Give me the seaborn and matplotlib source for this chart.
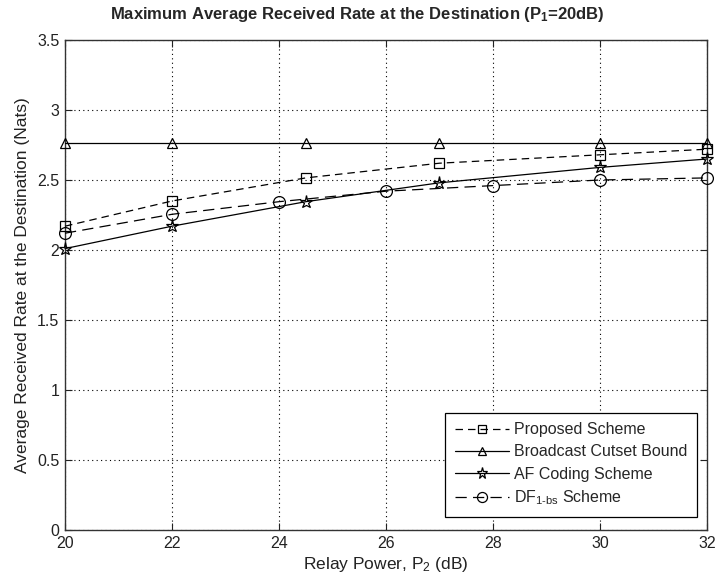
import matplotlib
matplotlib.use("Agg")
import matplotlib.pyplot as plt
import seaborn as sns
import pandas as pd

sns.set_theme(style="white")
plt.rcParams['font.family'] = ['Liberation Sans', 'DejaVu Sans']
plt.rcParams['mathtext.fontset'] = 'custom'
plt.rcParams['mathtext.rm'] = 'Liberation Sans'
plt.rcParams['mathtext.it'] = 'Liberation Sans'
plt.rcParams['mathtext.bf'] = 'Liberation Sans:bold'

# Data
x_prop = [20, 22, 24.5, 27, 30, 32]
y_prop = [2.17, 2.35, 2.515, 2.62, 2.68, 2.72]
x_bound = [20, 22, 24.5, 27, 30, 32]
y_bound = [2.765, 2.765, 2.765, 2.765, 2.765, 2.765]
x_af = [20, 22, 24.5, 27, 30, 32]
y_af = [2.01, 2.17, 2.345, 2.48, 2.59, 2.65]
x_df = [20, 22, 24, 26, 28, 30, 32]
y_df = [2.12, 2.255, 2.345, 2.42, 2.46, 2.50, 2.515]

labels = ["Proposed Scheme", "Broadcast Cutset Bound", "AF Coding Scheme",
          r"DF$_{\mathrm{1\text{-}bs}}$ Scheme"]
xticks = [20, 22, 24, 26, 28, 30, 32]
yticks = [0, 0.5, 1, 1.5, 2, 2.5, 3, 3.5]
ytick_labels = ["0", "0.5", "1", "1.5", "2", "2.5", "3", "3.5"]

fig = plt.figure(figsize=(7.16, 5.84), dpi=100)
ax = fig.add_axes([0.0908, 0.0925, 0.8966, 0.839])

series = [
    (x_prop, y_prop, 's', (0, (6, 4)), 7),
    (x_bound, y_bound, '^', '-', 7.5),
    (x_af, y_af, '*', '-', 9.5),
    (x_df, y_df, 'o', (0, (9, 5)), 8.5),
]
for (xs, ys, mk, ls, ms), lab in zip(series, labels):
    df = pd.DataFrame({"x": xs, "y": ys})
    sns.lineplot(data=df, x="x", y="y", ax=ax, color="black", linewidth=0.9,
                 linestyle=ls, marker=mk, markersize=ms, markerfacecolor='none',
                 markeredgecolor='black', markeredgewidth=0.9, label=lab,
                 errorbar=None, clip_on=False, zorder=3)

ax.set_xlim(20, 32)
ax.set_ylim(0, 3.5)
ax.set_xticks(xticks)
ax.set_yticks(yticks)
ax.set_yticklabels(ytick_labels)
ax.grid(True, linestyle=(0, (1, 3)), color='black', linewidth=0.8)
ax.tick_params(direction='in', length=5, top=True, right=True, labelsize=11.5,
               colors='#222222', bottom=True, left=True, width=0.8, pad=4)
for sp in ax.spines.values():
    sp.set_color('#333333')
    sp.set_linewidth(1.0)

ax.set_xlabel(r"Relay Power, P$_2$ (dB)", fontsize=12.5, color='#222222', labelpad=3)
ax.set_ylabel("Average Received Rate at the Destination (Nats)", fontsize=12.5,
              color='#222222', labelpad=5)
ax.set_title(r"Maximum Average Received Rate at the Destination (P$_{\mathbf{1}}$=20dB)",
             fontsize=12, fontweight='bold', pad=15, x=0.456)

leg = ax.legend(loc='lower right', bbox_to_anchor=(0.9844, 0.0265), borderaxespad=0,
                fontsize=11.5, frameon=True, fancybox=False, edgecolor='black',
                framealpha=1, handlelength=3.4, handletextpad=0.3, borderpad=0.6,
                labelspacing=0.45, markerscale=0.85)
leg.get_frame().set_linewidth(0.9)

fig.savefig("out.png", dpi=100)
